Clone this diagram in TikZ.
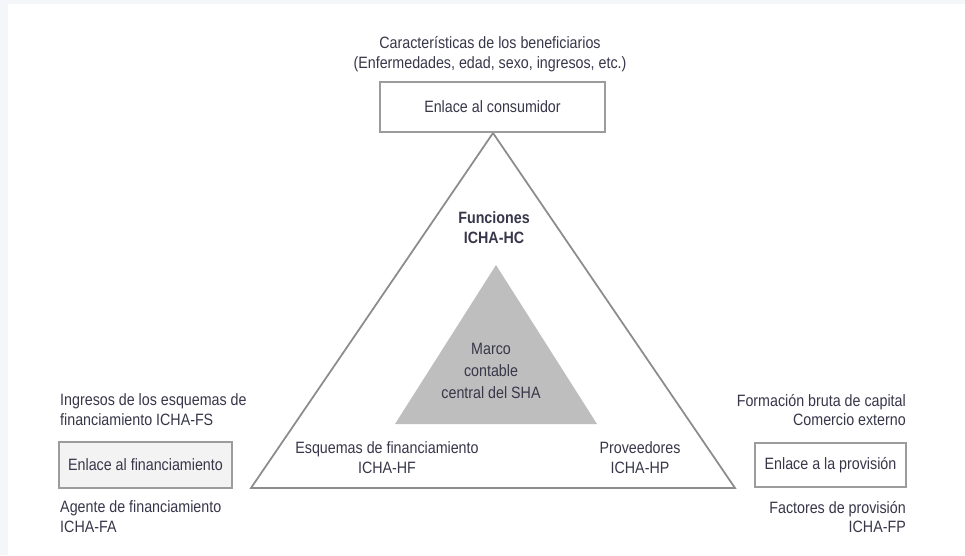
\documentclass[tikz,border=0pt]{standalone}
\usepackage{fontspec}
\setmainfont{Liberation Sans}[FakeStretch=0.87]
\usepackage{tikz}
\usetikzlibrary{positioning}

\definecolor{txtgray}{HTML}{38374A}
\definecolor{linegray}{HTML}{8C8C8C}
\definecolor{boxgray}{HTML}{9C9C9C}
\definecolor{coregray}{HTML}{BEBEBE}
\definecolor{pagegray}{HTML}{F5F6FA}
\definecolor{boxfill}{HTML}{F3F3F3}

\tikzset{
  txt/.style={text=txtgray, font=\fontsize{14}{17}\selectfont, inner sep=0pt},
  linkbox/.style={draw=boxgray, line width=1.1pt, text=txtgray,
                  font=\fontsize{14}{17}\selectfont},
}

\begin{document}
\begin{tikzpicture}[x=0.3mm,y=-0.3mm]
  \useasboundingbox (0,0) rectangle (965,555);
  \fill[pagegray] (0,0) rectangle (965,555);
  \fill[white] (8,4) rectangle (965,555);

  % triangles
  \coordinate (top)   at (493,133);
  \coordinate (left)  at (251,488);
  \coordinate (right) at (735,488);
  \coordinate (ctop)   at (496,265);
  \coordinate (cleft)  at (395,424);
  \coordinate (cright) at (597,424);

  \fill[coregray] (ctop) -- (cleft) -- (cright) -- cycle;
  \draw[linegray, line width=1.5pt, line join=miter] (top) -- (left) -- (right) -- cycle;

  % link boxes
  \node[linkbox, fill=white, minimum width=67.5mm, minimum height=15mm]
        (consumidor) at (492.5,107) {Enlace al consumidor};
  \node[linkbox, fill=boxfill, minimum width=51.9mm, minimum height=13.8mm]
        (financiamiento) at (145.5,465) {Enlace al financiamiento};
  \node[linkbox, fill=white, minimum width=45.3mm, minimum height=13.2mm]
        (provision) at (830.5,465) {Enlace a la provisión};

  % labels round the boxes
  \node[txt, align=center] (benef) at (490,54)
        {Características de los beneficiarios\\(Enfermedades, edad, sexo, ingresos, etc.)};
  \node[txt, align=left, anchor=west] (ingresos) at (60,410)
        {Ingresos de los esquemas de\\financiamiento ICHA-FS};
  \node[txt, align=left, anchor=west] (agente) at (60,517)
        {Agente de financiamiento\\ICHA-FA};
  \node[txt, align=right, anchor=east] (formacion) at (906,410)
        {Formación bruta de capital\\Comercio externo};
  \node[txt, align=right, anchor=east] (factores) at (906,517)
        {Factores de provisión\\ICHA-FP};

  % labels inside the triangle
  \node[txt, align=center, font=\fontsize{14}{17}\selectfont\bfseries] (funciones) at (494,228)
        {Funciones\\ICHA-HC};
  \node[txt, align=center, font=\fontsize{14}{18.5}\selectfont] (marco) at (491,371)
        {Marco\\contable\\central del SHA};
  \node[txt, align=center] (esquemas) at (387,458)
        {Esquemas de financiamiento\\ICHA-HF};
  \node[txt, align=center] (proveedores) at (640,458)
        {Proveedores\\ICHA-HP};
\end{tikzpicture}
\end{document}
